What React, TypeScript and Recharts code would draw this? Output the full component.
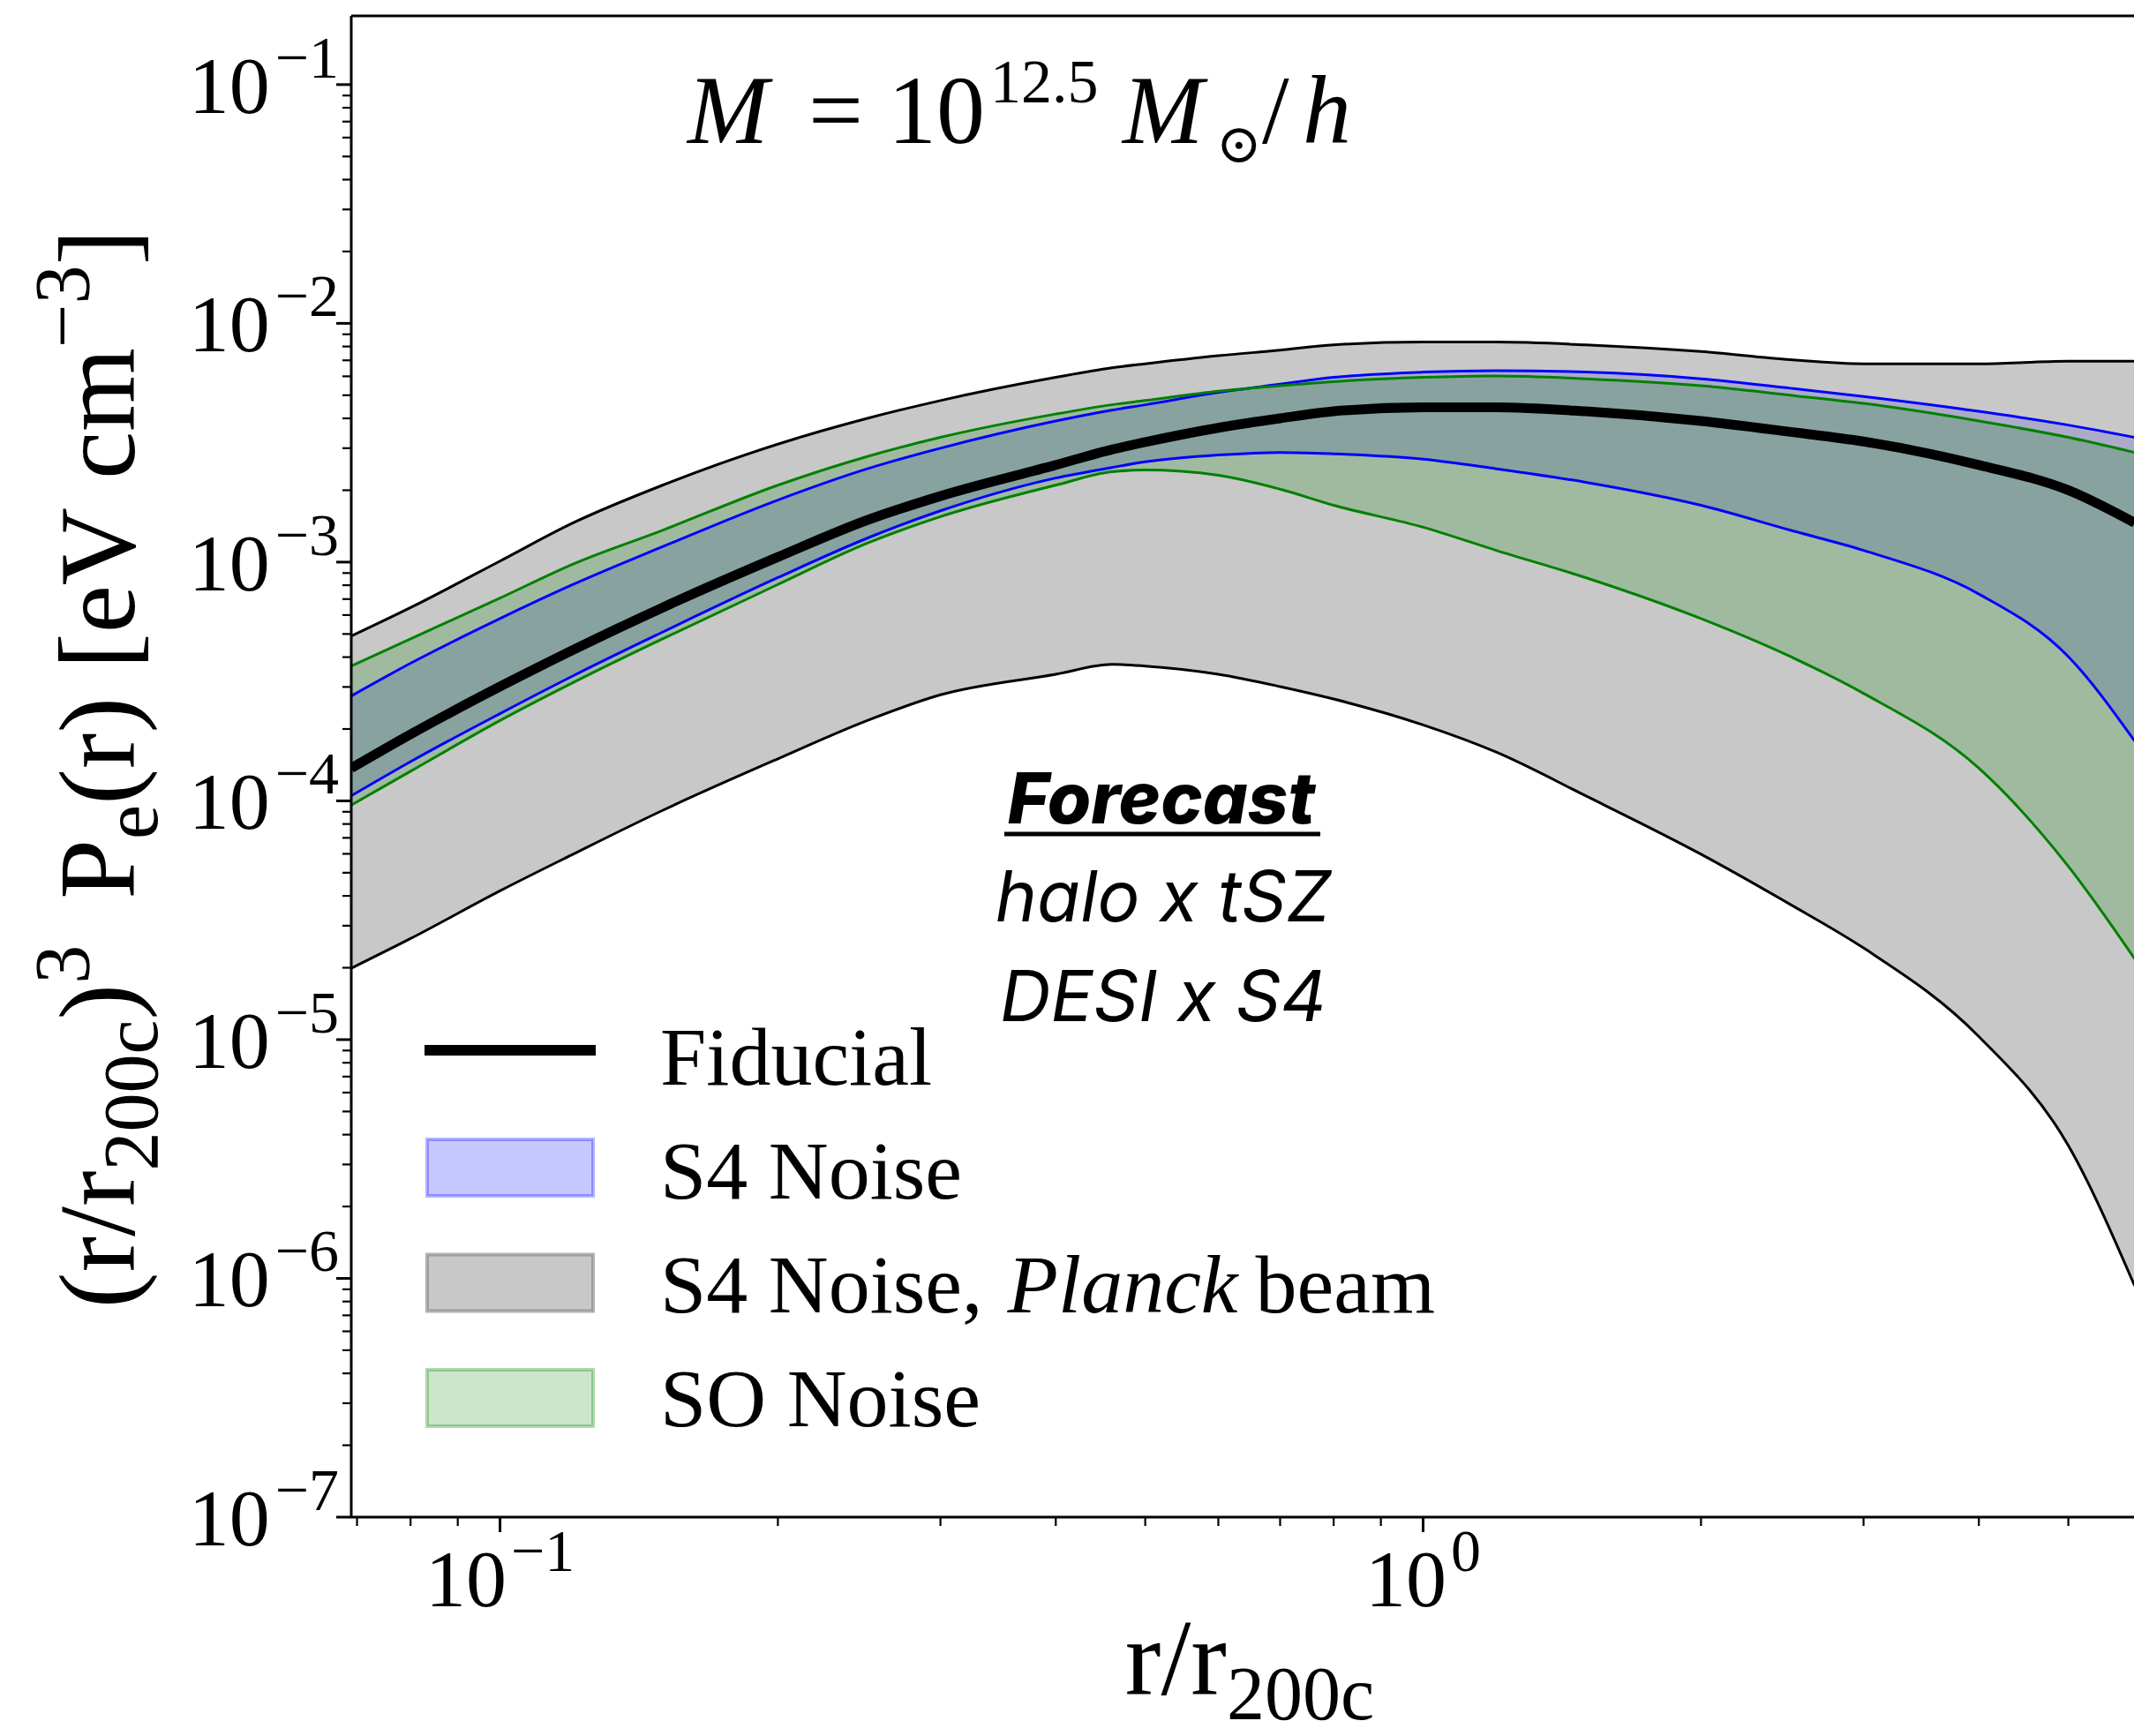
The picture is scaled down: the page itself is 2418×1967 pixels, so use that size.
import React from 'react';
import { ComposedChart, Area, Line, XAxis, YAxis, ReferenceLine, Legend } from 'recharts';

// r / r200c sample points
const radius = [0.069, 0.08, 0.1, 0.12, 0.15, 0.2, 0.25, 0.3, 0.4, 0.46, 0.5, 0.6, 0.7, 0.8, 1.0, 1.2, 1.5, 2, 2.5, 3, 4, 5, 5.9];

const fiducial = [1.37e-4, 1.9e-4, 3.01e-4, 4.29e-4, 6.45e-4, 1.05e-3, 1.5e-3, 1.89e-3, 2.55e-3, 2.96e-3, 3.18e-3, 3.65e-3, 4.0e-3, 4.28e-3, 4.45e-3, 4.45e-3, 4.28e-3, 3.9e-3, 3.51e-3, 3.2e-3, 2.55e-3, 2.0e-3, 1.46e-3];

const s4Low = [1.05e-4, 1.46e-4, 2.32e-4, 3.34e-4, 5.09e-4, 8.61e-4, 1.26e-3, 1.64e-3, 2.25e-3, 2.49e-3, 2.63e-3, 2.81e-3, 2.88e-3, 2.84e-3, 2.7e-3, 2.46e-3, 2.16e-3, 1.73e-3, 1.36e-3, 1.12e-3, 7.35e-4, 4.02e-4, 1.78e-4];
const s4High = [2.75e-4, 3.77e-4, 5.8e-4, 8.06e-4, 1.16e-3, 1.82e-3, 2.46e-3, 3.0e-3, 3.9e-3, 4.33e-3, 4.56e-3, 5.14e-3, 5.56e-3, 5.94e-3, 6.25e-3, 6.34e-3, 6.25e-3, 5.86e-3, 5.35e-3, 4.94e-3, 4.28e-3, 3.75e-3, 3.33e-3];

const planckLow = [1.99e-5, 2.65e-5, 4.2e-5, 5.98e-5, 9.12e-5, 1.5e-4, 2.17e-4, 2.78e-4, 3.39e-4, 3.73e-4, 3.67e-4, 3.39e-4, 3.01e-4, 2.67e-4, 2.08e-4, 1.6e-4, 1.05e-4, 5.98e-5, 3.68e-5, 2.42e-5, 1.03e-5, 3.6e-6, 9.3e-7];
const planckHigh = [4.9e-4, 6.45e-4, 1.01e-3, 1.46e-3, 2.1e-3, 3.12e-3, 4.0e-3, 4.75e-3, 5.94e-3, 6.51e-3, 6.77e-3, 7.32e-3, 7.72e-3, 8.13e-3, 8.35e-3, 8.35e-3, 8.13e-3, 7.62e-3, 7.04e-3, 6.77e-3, 6.77e-3, 6.95e-3, 6.95e-3];

const soLow = [9.6e-5, 1.33e-4, 2.17e-4, 3.13e-4, 4.77e-4, 8.06e-4, 1.2e-3, 1.55e-3, 2.1e-3, 2.39e-3, 2.43e-3, 2.31e-3, 2.02e-3, 1.73e-3, 1.4e-3, 1.12e-3, 8.61e-4, 5.8e-4, 4.02e-4, 2.82e-4, 1.37e-4, 5.32e-5, 2.18e-5];
const soHigh = [3.67e-4, 4.77e-4, 7.07e-4, 9.82e-4, 1.36e-3, 2.1e-3, 2.77e-3, 3.33e-3, 4.17e-3, 4.56e-3, 4.75e-3, 5.2e-3, 5.48e-3, 5.7e-3, 5.94e-3, 6.02e-3, 5.86e-3, 5.48e-3, 5.0e-3, 4.62e-3, 3.9e-3, 3.33e-3, 2.88e-3];

const xTicks = [0.07, 0.08, 0.09, 0.1, 0.2, 0.3, 0.4, 0.5, 0.6, 0.7, 0.8, 0.9, 1, 2, 3, 4, 5];
const yMajorTicks = [1e-7, 1e-6, 1e-5, 1e-4, 1e-3, 1e-2, 1e-1];
const yTicks = [
  ...yMajorTicks,
  ...yMajorTicks.slice(0, -1).flatMap((d) => [2, 3, 4, 5, 6, 7, 8, 9].map((m) => m * d)),
];

const legendLabels = ['Fiducial', 'S4 Noise', 'S4 Noise,', 'SO Noise'];

const X_DOMAIN: [number, number] = [0.069, 5.89];
const Y_DOMAIN: [number, number] = [1e-7, 0.194];

const W = 2418;
const H = 1967;
const SERIF = '"Liberation Serif", "DejaVu Serif", serif';
const SANS = 'Inter, "Liberation Sans", sans-serif';

const rows = radius.map((r, i) => ({
  r,
  fid: fiducial[i],
  s4Lo: s4Low[i],
  s4Hi: s4High[i],
  plLo: planckLow[i],
  plHi: planckHigh[i],
  soLo: soLow[i],
  soHi: soHigh[i],
}));

const expOf = (v: number) => Math.log10(v);
const isMajor = (v: number) => Math.abs(expOf(v) - Math.round(expOf(v))) < 1e-6;
const expLabel = (v: number) => {
  const e = Math.round(expOf(v));
  return e < 0 ? `\u2212${-e}` : `${e}`;
};

function XTick(props: any) {
  const { x, y, payload } = props;
  const v = payload.value;
  const major = isMajor(v);
  return (
    <g>
      <line x1={x} x2={x} y1={y} y2={y + (major ? 17 : 10)} stroke="#000" strokeWidth={major ? 3 : 2.2} />
      {major && (
        <text x={x} y={y + 101} textAnchor="middle" fontFamily={SERIF} fontSize={92} fill="#000">
          10
          <tspan dy={-40} dx={5} fontSize={68}>
            {expLabel(v)}
          </tspan>
        </text>
      )}
    </g>
  );
}

function YTick(props: any) {
  const { x, y, payload } = props;
  const v = payload.value;
  const major = isMajor(v);
  const len = major ? 17 : 10;
  return (
    <g>
      <line x1={x - len} x2={x} y1={y} y2={y} stroke="#000" strokeWidth={major ? 3 : 2.2} />
      {major && (
        <text x={x - 14} y={y + 32} textAnchor="end" fontFamily={SERIF} fontSize={92} fill="#000">
          10
          <tspan dy={-40} dx={6} fontSize={68}>
            {expLabel(v)}
          </tspan>
        </text>
      )}
    </g>
  );
}

function LegendBox() {
  const swatches = [
    { fill: '#0000ff', op: 0.22, edge: 0.3 },
    { fill: '#808080', op: 0.43, edge: 0.6 },
    { fill: '#008000', op: 0.2, edge: 0.3 },
  ];
  return (
    <svg width={1200} height={500} style={{ overflow: 'visible' }}>
      <line x1={11} x2={205} y1={40} y2={40} stroke="#000" strokeWidth={12} />
      {swatches.map((s, i) => (
        <rect
          key={i}
          x={14}
          y={141 + i * 130.5}
          width={188}
          height={64}
          fill={s.fill}
          fillOpacity={s.op}
          stroke={s.fill}
          strokeOpacity={s.edge}
          strokeWidth={4}
        />
      ))}
      {legendLabels.map((t, i) => (
        <text key={t} x={278} y={79 + i * 129} fontFamily={SERIF} fontSize={94} fill="#000">
          {t}
          {i === 2 && (
            <>
              <tspan dx={28} fontStyle="italic">
                Planck
              </tspan>
              <tspan dx={20}>beam</tspan>
            </>
          )}
        </text>
      ))}
    </svg>
  );
}

export default function App() {
  return (
    <div style={{ position: 'absolute', left: 0, top: 0, width: W, height: H, background: '#fff' }}>
      <ComposedChart width={W} height={H} data={rows} margin={{ top: 18, right: 0, bottom: 0, left: 0 }}>
        <XAxis
          dataKey="r"
          type="number"
          scale="log"
          domain={X_DOMAIN}
          allowDataOverflow
          ticks={xTicks}
          interval={0}
          tick={(p: any) => <XTick {...p} />}
          tickLine={false}
          tickSize={0}
          tickMargin={0}
          axisLine={{ stroke: '#000', strokeWidth: 3 }}
          height={248}
        />
        <YAxis
          type="number"
          scale="log"
          domain={Y_DOMAIN}
          allowDataOverflow
          ticks={yTicks}
          interval={0}
          tick={(p: any) => <YTick {...p} />}
          tickLine={false}
          tickSize={0}
          tickMargin={0}
          axisLine={{ stroke: '#000', strokeWidth: 3 }}
          width={398}
        />
        <ReferenceLine y={Y_DOMAIN[1]} stroke="#000" strokeWidth={3} />

        <Area dataKey={(d: any) => [d.s4Lo, d.s4Hi]} type="monotone" fill="#0000ff" fillOpacity={0.2} stroke="none" isAnimationActive={false} />
        <Area dataKey={(d: any) => [d.plLo, d.plHi]} type="monotone" fill="#808080" fillOpacity={0.43} stroke="none" isAnimationActive={false} />
        <Area dataKey={(d: any) => [d.soLo, d.soHi]} type="monotone" fill="#008000" fillOpacity={0.2} stroke="none" isAnimationActive={false} />

        <Line dataKey="plHi" type="monotone" stroke="#000" strokeWidth={3} dot={false} activeDot={false} isAnimationActive={false} />
        <Line dataKey="plLo" type="monotone" stroke="#000" strokeWidth={3} dot={false} activeDot={false} isAnimationActive={false} />
        <Line dataKey="s4Hi" type="monotone" stroke="#0000ff" strokeWidth={3} dot={false} activeDot={false} isAnimationActive={false} />
        <Line dataKey="s4Lo" type="monotone" stroke="#0000ff" strokeWidth={3} dot={false} activeDot={false} isAnimationActive={false} />
        <Line dataKey="soHi" type="monotone" stroke="#008000" strokeWidth={3} dot={false} activeDot={false} isAnimationActive={false} />
        <Line dataKey="soLo" type="monotone" stroke="#008000" strokeWidth={3} dot={false} activeDot={false} isAnimationActive={false} />
        <Line dataKey="fid" type="monotone" stroke="#000" strokeWidth={11} dot={false} activeDot={false} isAnimationActive={false} />

        <Legend
          layout="horizontal"
          verticalAlign="middle"
          align="center"
          wrapperStyle={{ left: 470, top: 1150, width: 1200, height: 500 }}
          content={() => <LegendBox />}
        />
      </ComposedChart>

      <svg width={W} height={H} style={{ position: 'absolute', left: 0, top: 0, pointerEvents: 'none' }}>
        {/* annotation: halo mass */}
        <text y={162} fontFamily={SERIF} fontSize={110} fill="#000">
          <tspan x={779} fontStyle="italic">M</tspan>
          <tspan x={916}>=</tspan>
          <tspan x={1006}>10</tspan>
          <tspan x={1122} dy={-46} fontSize={70}>12.5</tspan>
          <tspan x={1272} dy={46} fontStyle="italic">M</tspan>
          <tspan x={1378} dy={22} fontSize={62}>{'\u2299'}</tspan>
          <tspan x={1430} dy={-22}>/</tspan>
          <tspan x={1476} fontStyle="italic">h</tspan>
        </text>

        {/* forecast block */}
        <g fontFamily={SANS} fontStyle="italic" fill="#000" textAnchor="middle">
          <text x={1316} y={933} fontSize={80} fontWeight={800}>Forecast</text>
          <line x1={1138} x2={1496} y1={945} y2={945} stroke="#000" strokeWidth={5} />
          <text x={1318} y={1044} fontSize={80}>halo x tSZ</text>
          <text x={1318} y={1157} fontSize={80}>DESI x S4</text>
        </g>

        {/* axis labels */}
        <text x={1416} y={1920} textAnchor="middle" fontFamily={SERIF} fontSize={122} fill="#000">
          r/r
          <tspan dy={28} fontSize={86}>200c</tspan>
        </text>
        <text transform="translate(152,871) rotate(-90)" textAnchor="middle" fontFamily={SERIF} fontSize={122} fill="#000">
          (r/r
          <tspan dy={26} fontSize={88}>200c</tspan>
          <tspan dy={-26}>)</tspan>
          <tspan dy={-52} fontSize={88}>3</tspan>
          <tspan dy={52} dx={52}>P</tspan>
          <tspan dy={26} fontSize={88}>e</tspan>
          <tspan dy={-26}>(r)</tspan>
          <tspan dx={32}>[eV</tspan>
          <tspan dx={32}>cm</tspan>
          <tspan dy={-52} fontSize={88}>{'\u22123'}</tspan>
          <tspan dy={52}>]</tspan>
        </text>
      </svg>
    </div>
  );
}
